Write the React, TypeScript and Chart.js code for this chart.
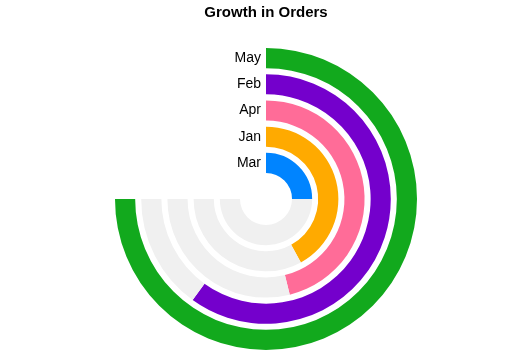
import React, { useEffect, useRef } from "react";
import { Chart, registerables } from "chart.js";

Chart.register(...registerables);

// Outer ring first
const categories = ["May", "Feb", "Apr", "Jan", "Mar"];
const values = [100, 80, 61.5, 56, 33.3];
const colors = ["#12A91D", "#7400CC", "#FF6C98", "#FFAA00", "#0084FF"];
const trackColor = "#F0F0F0";
const title = "Growth in Orders";

const FONT = "Arial, 'Liberation Sans', Helvetica, sans-serif";

export default function App() {
  const ref = useRef<HTMLCanvasElement | null>(null);

  useEffect(() => {
    if (!ref.current) return;
    const datasets: any[] = [];
    categories.forEach((c, i) => {
      if (i > 0) {
        datasets.push({
          label: "spacer" + i,
          data: [100],
          backgroundColor: ["rgba(0,0,0,0)"],
          borderWidth: 0,
          weight: 6,
        });
      }
      datasets.push({
        label: c,
        data: [values[i], 100 - values[i]],
        backgroundColor: [colors[i], trackColor],
        borderWidth: 0,
        weight: 20,
        isReal: true,
        idx: i,
      });
    });

    const labelPlugin = {
      id: "ringLabels",
      afterDatasetsDraw(chart: any) {
        const ctx = chart.ctx;
        ctx.save();
        ctx.font = `14px ${FONT}`;
        ctx.fillStyle = "#000";
        ctx.textAlign = "right";
        ctx.textBaseline = "middle";
        chart.data.datasets.forEach((ds: any, di: number) => {
          if (!ds.isReal) return;
          const arc = chart.getDatasetMeta(di).data[0];
          if (!arc) return;
          const mid = (arc.innerRadius + arc.outerRadius) / 2;
          ctx.fillText(categories[ds.idx], arc.x - 5, arc.y - mid);
        });
        ctx.restore();
      },
    };

    const chart = new Chart(ref.current, {
      type: "doughnut",
      data: { labels: ["value", "rest"], datasets },
      options: {
        animation: false,
        responsive: true,
        maintainAspectRatio: false,
        circumference: 270,
        rotation: 0,
        cutout: 26,
        layout: { padding: { left: 115, right: 115, top: 0, bottom: 5 } },
        plugins: {
          legend: { display: false },
          tooltip: { enabled: false },
          title: {
            display: true,
            text: title,
            color: "#000",
            font: { family: FONT, size: 15, weight: "bold" },
            padding: { top: 4, bottom: 26 },
          },
        },
      } as any,
      plugins: [labelPlugin],
    });
    return () => chart.destroy();
  }, []);

  return (
    <div style={{ position: "fixed", left: 0, top: 0, width: 532, height: 355, background: "#fff" }}>
      <canvas ref={ref} />
    </div>
  );
}
